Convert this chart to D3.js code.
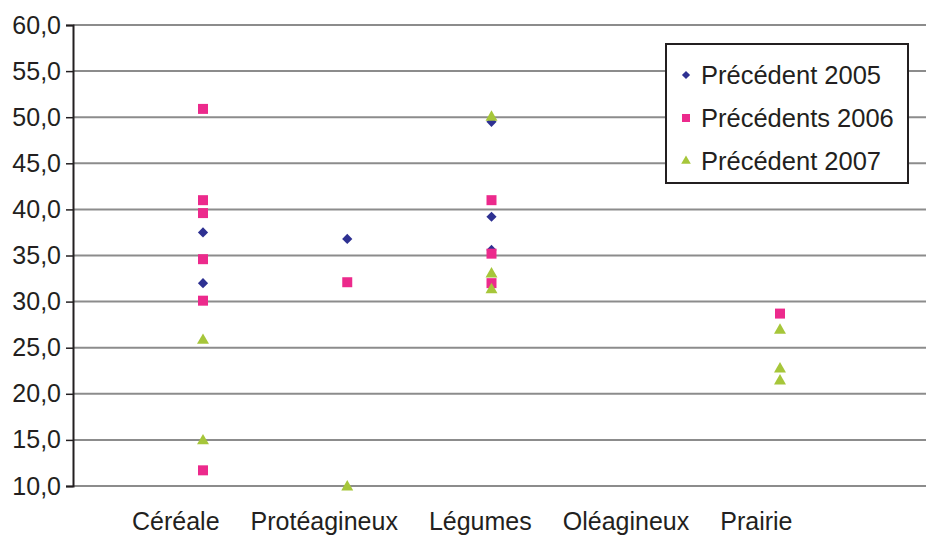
<!DOCTYPE html>
<html>
<head>
<meta charset="utf-8">
<script src="https://cdn.jsdelivr.net/npm/d3@7"></script>
<style>
body { margin: 0; background: #fff; }
text { font-family: "Liberation Sans", Arial, sans-serif; fill: #231f20; }
</style>
</head>
<body>
<div id="chart"></div>
<script>
// categories and values
var categories = ["Céréale", "Protéagineux", "Légumes", "Oléagineux", "Prairie"]
var yTicks = [10, 15, 20, 25, 30, 35, 40, 45, 50, 55, 60]

// one list of values per category, for each series
var prec2005 = [[37.5, 32.0], [36.8], [49.5, 39.2, 35.6], [], []]
var prec2006 = [[50.9, 41.0, 39.6, 34.6, 30.1, 11.7], [32.1], [41.0, 35.2, 32.0], [], [28.7]]
var prec2007 = [[25.9, 15.0], [10.0], [50.1, 33.1, 31.4], [], [27.0, 22.8, 21.5]]

var seriesNames = ["Précédent 2005", "Précédents 2006", "Précédent 2007"]

var width = 926
var height = 537

var svg = d3.select("#chart").append("svg")
	.attr("width", width)
	.attr("height", height)

var xScale = d3.scalePoint().domain(categories).range([203, 780])
var yScale = d3.scaleLinear().domain([10, 60]).range([486, 25])
var axisX = 73

// grid lines
svg.selectAll(".grid")
	.data(yTicks)
	.enter().append("line")
	.attr("class", "grid")
	.attr("x1", axisX)
	.attr("x2", width)
	.attr("y1", function(d){ return yScale(d) })
	.attr("y2", function(d){ return yScale(d) })
	.attr("stroke", "#8c8c8c")
	.attr("stroke-width", 2)

// y axis
var yAxis = d3.axisLeft(yScale)
	.tickValues(yTicks)
	.tickSize(7)
	.tickPadding(5)
	.tickFormat(function(d){ return d3.format(".1f")(d).replace(".", ",") })

var gy = svg.append("g")
	.attr("transform", "translate(" + axisX + ",0)")
	.call(yAxis)
gy.select(".domain").attr("stroke", "#231f20").attr("stroke-width", 2)
gy.selectAll(".tick line").attr("stroke", "#231f20").attr("stroke-width", 1.5)
gy.selectAll(".tick text")
	.attr("font-size", "25px")
	.attr("font-family", "Liberation Sans, Arial, sans-serif")
	.attr("fill", "#231f20")

// category labels, laid out one after another
var labelX = 132
svg.selectAll(".catLabel")
	.data(categories)
	.enter().append("text")
	.attr("class", "catLabel")
	.attr("y", 530)
	.attr("font-size", "25px")
	.text(function(d){ return d })
	.each(function(){
		d3.select(this).attr("x", labelX)
		labelX += this.getComputedTextLength() + 31
	})

// flatten the lists into points
function toPoints(series){
	var pts = []
	series.forEach(function(vals, i){
		vals.forEach(function(v){ pts.push({cat: categories[i], v: v}) })
	})
	return pts
}

var markers = [
	{ data: prec2005, shape: d3.symbolSquare, rot: 45, size: 52, color: "#2e3192", name: seriesNames[0] },
	{ data: prec2006, shape: d3.symbolSquare, rot: 0, size: 100, color: "#ec2a8c", name: seriesNames[1] },
	{ data: prec2007, shape: d3.symbolTriangle, rot: 0, size: 62, color: "#a6c63a", name: seriesNames[2] }
]

markers.forEach(function(m){
	svg.append("g").selectAll("path")
		.data(toPoints(m.data))
		.enter().append("path")
		.attr("d", d3.symbol().type(m.shape).size(m.size))
		.attr("transform", function(d){
			var dy = m.shape === d3.symbolTriangle ? 1 : 0
			return "translate(" + xScale(d.cat) + "," + (yScale(d.v) + dy) + ") rotate(" + m.rot + ")"
		})
		.attr("fill", m.color)
})

// legend
var legend = svg.append("g").attr("transform", "translate(666,44)")
legend.append("rect")
	.attr("width", 242)
	.attr("height", 139)
	.attr("fill", "#fff")
	.attr("stroke", "#231f20")
	.attr("stroke-width", 2)

markers.forEach(function(m, i){
	var row = legend.append("g").attr("transform", "translate(20," + (31 + i * 43) + ")")
	row.append("path")
		.attr("d", d3.symbol().type(m.shape).size(m.size * 0.65))
		.attr("transform", "rotate(" + m.rot + ")")
		.attr("fill", m.color)
	row.append("text")
		.attr("x", 15)
		.attr("dy", "0.36em")
		.attr("font-size", "25.5px")
		.text(m.name)
})
</script>
</body>
</html>
